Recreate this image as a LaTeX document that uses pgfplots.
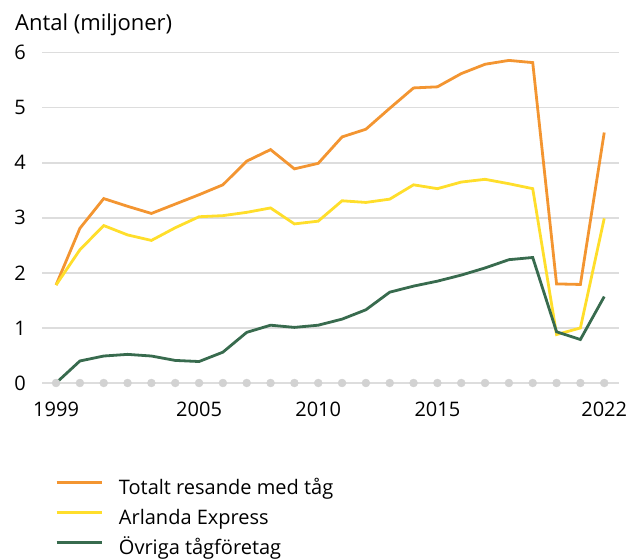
\documentclass[border=0pt]{standalone}
\usepackage{fontspec}
\setmainfont{Open Sans}
\usepackage{pgfplots}
\pgfplotsset{compat=1.18}
\definecolor{cOrange}{HTML}{F39531}
\definecolor{cYellow}{HTML}{FFDE2B}
\definecolor{cGreen}{HTML}{386B4E}
\definecolor{gridgray}{HTML}{DDDDDD}
\definecolor{dotgray}{HTML}{D2D2D2}
\begin{document}
\fontsize{20}{24}\selectfont
\begin{tikzpicture}
\useasboundingbox (0,0) rectangle (631pt,559pt);
\node[anchor=base west, inner sep=0pt, font=\fontsize{22}{26}\selectfont] at (15pt,528pt) {Antal (miljoner)};
\begin{axis}[
  at={(42pt,176pt)}, anchor=south west,
  scale only axis, width=577pt, height=330.3pt,
  xmin=1998.41, xmax=2022.62, ymin=0, ymax=6,
  clip=false,
  axis line style={draw=none},
  major tick length=0pt,
  ytick={0,1,2,3,4,5,6},
  xtick={1999,2005,2010,2015,2022},
  ymajorgrids,
  grid style={color=gridgray, line width=1.5pt},
  tick label style={font=\fontsize{20}{24}\selectfont},
  /pgf/number format/assume math mode=true,
  /pgf/number format/1000 sep={},
  yticklabel style={anchor=east, inner sep=0pt, xshift=-16pt},
  xticklabel style={anchor=north, inner sep=0pt, yshift=-19pt},
  legend style={draw=none, fill=none, at={(0.0225,-0.291)}, anchor=north west,
    inner sep=0pt, row sep=10pt, legend cell align=left,
    nodes={inner sep=0pt, text height=15pt, text depth=5pt, font=\fontsize{20}{24}\selectfont},
    /tikz/every odd column/.append style={column sep=16pt}},
  legend image code/.code={\draw[#1] (0pt,7pt) -- (45pt,7pt);},
]
\addplot[only marks, mark=*, mark size=4pt, color=dotgray, forget plot] coordinates {
(1999,0)(2000,0)(2001,0)(2002,0)(2003,0)(2004,0)(2005,0)(2006,0)(2007,0)(2008,0)(2009,0)(2010,0)
(2011,0)(2012,0)(2013,0)(2014,0)(2015,0)(2016,0)(2017,0)(2018,0)(2019,0)(2020,0)(2021,0)(2022,0)};
\addplot[color=cOrange, line width=2.8pt, mark=none] coordinates {
(1999,1.78)(2000,2.81)(2001,3.35)(2002,3.21)(2003,3.08)(2004,3.25)(2005,3.42)(2006,3.60)
(2007,4.03)(2008,4.24)(2009,3.89)(2010,3.99)(2011,4.47)(2012,4.61)(2013,4.99)(2014,5.36)
(2015,5.38)(2016,5.62)(2017,5.79)(2018,5.86)(2019,5.82)(2020,1.80)(2021,1.79)(2022,4.55)};
\addlegendentry{Totalt resande med tåg}
\addplot[color=cYellow, line width=2.8pt, mark=none] coordinates {
(1999,1.78)(2000,2.42)(2001,2.86)(2002,2.69)(2003,2.59)(2004,2.82)(2005,3.02)(2006,3.04)
(2007,3.10)(2008,3.18)(2009,2.89)(2010,2.94)(2011,3.31)(2012,3.28)(2013,3.34)(2014,3.60)
(2015,3.53)(2016,3.65)(2017,3.70)(2018,3.62)(2019,3.53)(2020,0.88)(2021,1.00)(2022,2.99)};
\addlegendentry{Arlanda Express}
\addplot[color=cGreen, line width=2.8pt, mark=none] coordinates {
(1999,0.00)(2000,0.40)(2001,0.49)(2002,0.52)(2003,0.49)(2004,0.41)(2005,0.39)(2006,0.56)
(2007,0.92)(2008,1.05)(2009,1.01)(2010,1.05)(2011,1.16)(2012,1.33)(2013,1.65)(2014,1.76)
(2015,1.85)(2016,1.96)(2017,2.09)(2018,2.24)(2019,2.28)(2020,0.93)(2021,0.79)(2022,1.57)};
\addlegendentry{Övriga tågföretag}
\end{axis}
\end{tikzpicture}
\end{document}
